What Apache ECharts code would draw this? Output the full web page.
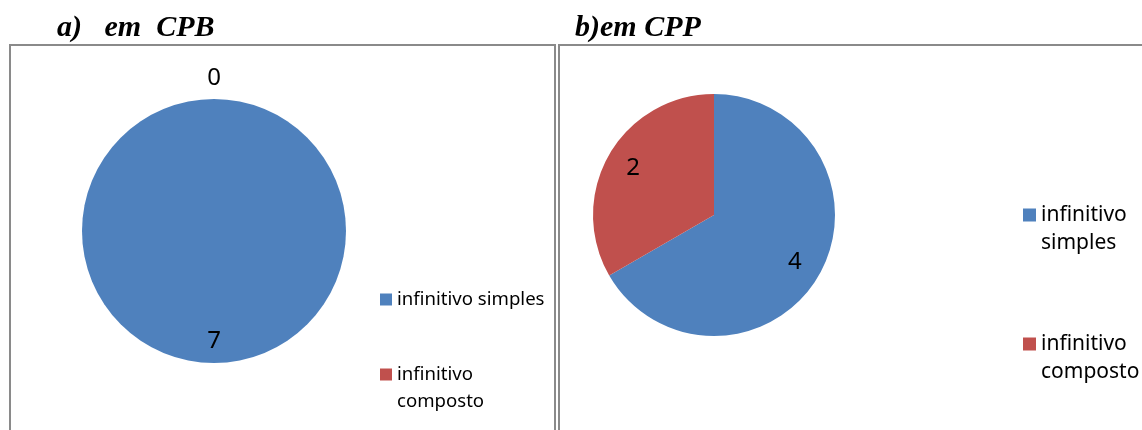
<!DOCTYPE html>
<html>
<head>
<meta charset="utf-8">
<script src="https://cdn.jsdelivr.net/npm/echarts@6/dist/echarts.min.js"></script>
<style>html,body{margin:0;padding:0;background:#fff;}#c{width:1142px;height:430px;}</style>
</head>
<body>
<div id="c"></div>
<script>
const categories = ['infinitivo simples', 'infinitivo composto'];
const colors = ['#4F81BD', '#C0504D'];
const valuesCPB = [7, 0];
const valuesCPP = [4, 2];
const titleA = 'a)   em  CPB';
const titleB = 'b)em CPP';

const FONT = 'Noto Sans';
const chart = echarts.init(document.getElementById('c'));

function pieData(vals) {
  return categories.map((n, i) => ({ name: n, value: vals[i], itemStyle: { color: colors[i] } }));
}
function overlayData(vals) {
  return categories.map((n, i) => {
    const d = { name: n, value: vals[i], itemStyle: { color: 'rgba(0,0,0,0)' } };
    if (vals[i] === 0) {
      d.label = { position: 'outside', distanceToLabelLine: 0 };
      d.labelLine = { show: false, length: 21, length2: 0 };
    }
    return d;
  });
}
const labelStyle = { show: true, position: 'inside', color: '#000', fontFamily: FONT, fontSize: 24, formatter: '{c}' };

function legendItem(name, i, left, top, fontSize, lh, wrap) {
  const sz = fontSize > 20 ? 13 : 12;
  return {
    left: left, top: top, orient: 'vertical', padding: 0,
    icon: 'rect', itemWidth: sz, itemHeight: sz,
    selectedMode: false,
    formatter: function (n) { return wrap ? '\n' + n.replace(' ', '\n') : n; },
    textStyle: { fontFamily: FONT, fontSize: fontSize, color: '#000', lineHeight: lh },
    data: [{ name: name, itemStyle: { color: colors[i] } }]
  };
}

chart.setOption({
  animation: false,
  title: [
    { text: titleA, left: 57, top: 13, padding: 0, textStyle: { fontFamily: 'Liberation Serif', fontStyle: 'italic', fontWeight: 'bold', fontSize: 30, color: '#000' } },
    { text: titleB, left: 575, top: 13, padding: 0, textStyle: { fontFamily: 'Liberation Serif', fontStyle: 'italic', fontWeight: 'bold', fontSize: 30, color: '#000' } }
  ],
  legend: [
    legendItem(categories[0], 0, 380, 286, 18.6, 27, false),
    legendItem(categories[1], 1, 380, 334, 18.6, 27, true),
    legendItem(categories[0], 0, 1023, 173, 21, 28, true),
    legendItem(categories[1], 1, 1023, 302, 21, 28, true)
  ],
  graphic: [
    { type: 'rect', shape: { x: 10, y: 45, width: 545, height: 400 }, style: { fill: null, stroke: '#8a8a8a', lineWidth: 2 }, silent: true },
    { type: 'rect', shape: { x: 559, y: 45, width: 600, height: 400 }, style: { fill: null, stroke: '#8a8a8a', lineWidth: 2 }, silent: true }
  ],
  series: [
    { type: 'pie', center: [214, 231], radius: 132, startAngle: 90, clockwise: true, label: { show: false }, labelLine: { show: false }, silent: true, data: pieData(valuesCPB) },
    { type: 'pie', center: [214, 231], radius: [82, 132], startAngle: 90, clockwise: true, silent: true, label: labelStyle, labelLine: { show: false },
      labelLayout: function (p) { if (valuesCPB[p.dataIndex] === 0) { return { align: 'center' }; } },
      data: overlayData(valuesCPB) },
    { type: 'pie', center: [714, 215], radius: 121, startAngle: 90, clockwise: true, label: { show: false }, labelLine: { show: false }, silent: true, data: pieData(valuesCPP) },
    { type: 'pie', center: [714, 215], radius: [60, 121], startAngle: 90, clockwise: true, silent: true, label: labelStyle, labelLine: { show: false }, data: overlayData(valuesCPP) }
  ]
});
</script>
</body>
</html>
